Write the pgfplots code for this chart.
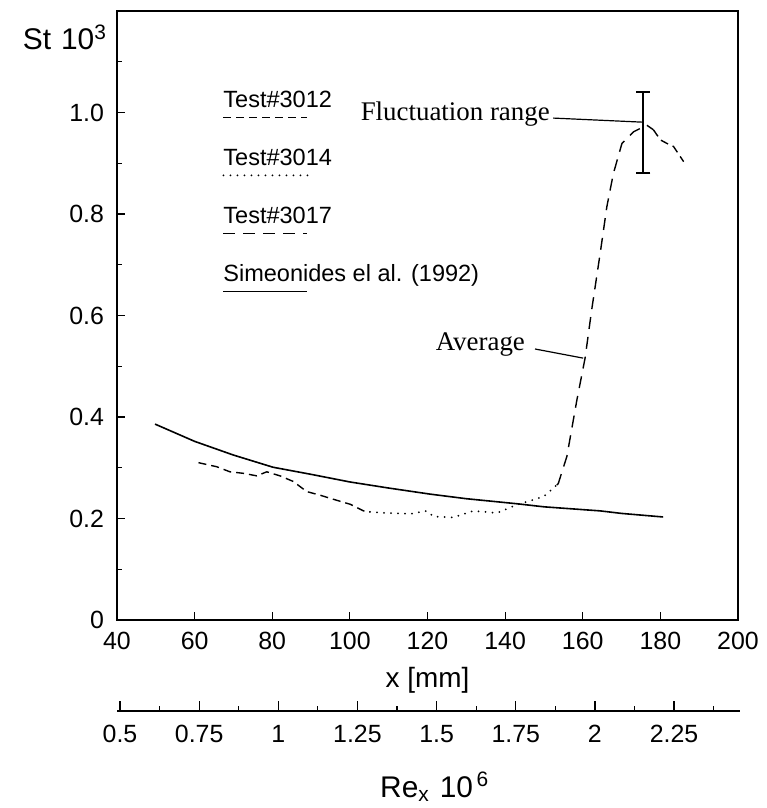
\documentclass[border=0pt]{standalone}
\usepackage{fontspec}
\setmainfont{Liberation Sans}
\newfontfamily\serifnote{Liberation Serif}
\usepackage{pgfplots}
\pgfplotsset{compat=1.18}
\begin{document}
\begin{tikzpicture}
\useasboundingbox (-58.5bp,-94bp) rectangle (325bp,310bp);
\begin{axis}[
  at={(0,0)}, anchor=south west,
  scale only axis, width=310.5bp, height=304.5bp,
  xmin=40, xmax=200, ymin=0, ymax=1.2,
  xtick={40,60,80,100,120,140,160,180,200},
  ytick={0,0.2,0.4,0.6,0.8,1.0}, yticklabels={0,0.2,0.4,0.6,0.8,1.0},
  minor ytick={0.1,0.3,0.5,0.7,0.9,1.1},
  xtick pos=left, ytick pos=left, tick align=inside,
  major tick length=4bp, minor tick length=2.5bp,
  axis line style={line width=0.9bp},
  every tick/.style={black, line width=0.6bp},
  tick label style={font=\fontsize{12.5}{14}\selectfont},
  yticklabel style={xshift=-3bp},
  xticklabel style={yshift=-2.5bp},
  /pgf/number format/assume math mode=true,
  xlabel={x [mm]}, ylabel={St\,\,10\textsuperscript{3}},
  every axis x label/.style={at={(axis description cs:0.5,0)}, anchor=base, yshift=-33.5bp,
    font=\fontsize{14}{16}\selectfont},
  every axis y label/.style={at={(axis description cs:-0.163,0.936)}, anchor=base west,
    font=\fontsize{15}{17}\selectfont},
  clip=false,
  legend cell align=left,
  legend style={draw=none, fill=none, at={(0.1707,0.8703)}, anchor=north west,
    inner sep=0pt, row sep=18bp, column sep=0pt,
    nodes={inner sep=0pt, text height=8.5bp, text depth=2.5bp, font=\fontsize{11.8}{13}\selectfont}},
  legend image code/.code={\draw[#1, overlay] (0bp,-8bp) -- (42bp,-8bp);},
]
% Test#3012
\addplot[black, line width=0.7bp, dash pattern=on 4bp off 2.5bp] coordinates {
(61.0,0.310) (65.7,0.302) (69.1,0.292) (72.6,0.289) (76.0,0.284) (78.6,0.292)
(82.0,0.284) (85.4,0.273) (88.9,0.253) (92.3,0.246) (95.7,0.238) (100.1,0.228)
(103.5,0.215) (105.2,0.213)};
\addlegendentry{Test\#3012}
% Test#3014
\addplot[black, line width=1bp, line cap=round, dash pattern=on 0pt off 3.5bp] coordinates {
(105.2,0.213) (108.6,0.211) (115.5,0.209) (119.8,0.215) (121.5,0.204) (126.7,0.202)
(131.8,0.215) (137.9,0.211) (143.0,0.227) (149.9,0.243) (153.3,0.266)};
\addlegendentry{Test\#3014}
% Test#3017
\addplot[black, line width=0.7bp, dash pattern=on 6bp off 4bp] coordinates {
(153.3,0.266) (153.7,0.269) (155.9,0.322) (158.5,0.434) (160.6,0.516) (162.3,0.611)
(164.5,0.723) (166.2,0.814) (167.9,0.880) (170.1,0.939) (173.1,0.962) (176.5,0.975)
(178.2,0.966)};
\addlegendentry{Test\#3017}
% Simeonides et al.
\addplot[black, line width=0.8bp] coordinates {
(49.8,0.386) (60,0.352) (70,0.325) (80.2,0.301) (90,0.287) (100,0.272) (110,0.260)
(120.7,0.248) (130,0.239) (143.1,0.229) (150,0.223) (164.5,0.215) (170,0.210) (180.7,0.203)};
\addlegendentry{Simeonides el al. (1992)}
% tail after the peak
\addplot[black, line width=0.7bp, dash pattern=on 4bp off 2.5bp, forget plot] coordinates {
(178.2,0.966) (180.0,0.946) (181.7,0.939) (183.4,0.933) (186.0,0.903)};
% fluctuation range
\addplot[black, line width=0.8bp, mark=none, draw=none, forget plot,
  error bars/.cd, y dir=both, y explicit,
  error bar style={line width=0.8bp, black},
  error mark options={rotate=90, mark size=3.5bp, line width=0.8bp, black}]
  coordinates {(175.6,0.9605) +- (0,0.0795)};
% annotations
\node[anchor=base east, inner sep=0pt, font=\serifnote\fontsize{13.5}{15}\selectfont]
  at (axis cs:151.6,0.985) {Fluctuation range};
\draw[line width=0.6bp] (axis cs:152.4,0.989) -- (axis cs:175.3,0.981);
\node[anchor=base east, inner sep=0pt, font=\serifnote\fontsize{13.5}{15}\selectfont]
  at (axis cs:145.2,0.532) {Average};
\draw[line width=0.6bp] (axis cs:147.7,0.534) -- (axis cs:160.1,0.516);
\end{axis}
\begin{axis}[
  at={(0bp,-45.5bp)}, anchor=south west,
  scale only axis, width=311.5bp, height=10bp,
  xmin=0.4905, xmax=2.4583, ymin=0, ymax=1,
  hide y axis, axis x line*=bottom,
  xtick={0.5,0.75,1,1.25,1.5,1.75,2,2.25},
  xticklabels={0.5,0.75,1,1.25,1.5,1.75,2,2.25},
  minor xtick={0.625,0.875,1.125,1.375,1.625,1.875,2.125,2.375},
  tick align=inside, major tick length=5bp, minor tick length=2.5bp,
  axis line style={line width=0.9bp},
  every tick/.style={black, line width=0.6bp},
  tick label style={font=\fontsize{12.5}{14}\selectfont},
  xticklabel style={yshift=-3.5bp},
  /pgf/number format/assume math mode=true,
  xlabel={Re\textsubscript{x}\,\,10\textsuperscript{\,6}},
  every axis x label/.style={at={(axis description cs:0.51,0)}, anchor=base, yshift=-43bp,
    font=\fontsize{15}{17}\selectfont},
]
\addplot[draw=none, forget plot] coordinates {(1,0.5)};
\end{axis}
\end{tikzpicture}
\end{document}
